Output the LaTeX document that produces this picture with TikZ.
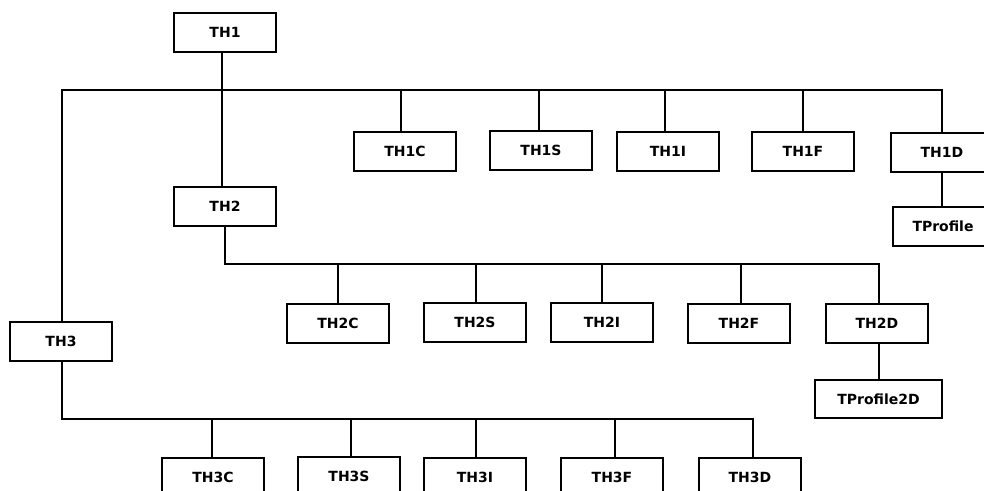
\documentclass[tikz,border=0pt]{standalone}
\usepackage{fontspec}
\setmainfont{DejaVu Sans}
\begin{document}
\begin{tikzpicture}[x=1pt,y=-1pt,
  box/.style={draw=black,line width=1.4pt,minimum width=102pt,minimum height=39pt,inner sep=0pt,
    font=\fontsize{14pt}{16pt}\selectfont\bfseries,fill=white},
  conn/.style={draw=black,line width=1.4pt}]
\useasboundingbox (0,0) rectangle (984,490);
\clip (0,0) rectangle (984,490);
% nodes
\node[box] (TH1) at (225,32.5) {TH1};
\node[box] (TH1C) at (405,151.5) {TH1C};
\node[box] (TH1S) at (541,150.5) {TH1S};
\node[box] (TH1I) at (668,151.5) {TH1I};
\node[box] (TH1F) at (803,151.5) {TH1F};
\node[box] (TH1D) at (942,152.5) {TH1D};
\node[box,minimum width=100pt] (TP) at (943,226.5) {TProfile};
\node[box] (TH2) at (225,206.5) {TH2};
\node[box] (TH2C) at (338,323.5) {TH2C};
\node[box] (TH2S) at (475,322.5) {TH2S};
\node[box] (TH2I) at (602,322.5) {TH2I};
\node[box] (TH2F) at (739,323.5) {TH2F};
\node[box] (TH2D) at (877,323.5) {TH2D};
\node[box,minimum width=127pt,minimum height=38pt] (TP2) at (878.5,399) {TProfile2D};
\node[box] (TH3) at (61,341.5) {TH3};
\node[box] (TH3C) at (213,477.5) {TH3C};
\node[box] (TH3S) at (349,476.5) {TH3S};
\node[box] (TH3I) at (475,477.5) {TH3I};
\node[box] (TH3F) at (612,477.5) {TH3F};
\node[box] (TH3D) at (750,477.5) {TH3D};
% bus levels
\coordinate (bus1) at (0,90);
\coordinate (bus2) at (0,264);
\coordinate (bus3) at (0,419);
% TH1 level
\draw[conn] ([xshift=-3pt]TH1.south) -- ([xshift=-3pt]TH1.south |- TH2.north);
\draw[conn] ([xshift=1pt]TH3.north) -- ([xshift=1pt]TH3.north |- bus1) -- (TH1D.north |- bus1) -- (TH1D.north);
\draw[conn] ([xshift=-4pt]TH1C.north) -- ([xshift=-4pt]TH1C.north |- bus1);
\draw[conn] ([xshift=-2pt]TH1S.north) -- ([xshift=-2pt]TH1S.north |- bus1);
\draw[conn] ([xshift=-3pt]TH1I.north) -- ([xshift=-3pt]TH1I.north |- bus1);
\draw[conn] (TH1F.north) -- (TH1F.north |- bus1);
\draw[conn] (TH1D.south) -- (TH1D.south |- TP.north);
% TH2 level
\draw[conn] (TH2.south) -- (TH2.south |- bus2) -- ([xshift=2pt]TH2D.north |- bus2) -- ([xshift=2pt]TH2D.north);
\draw[conn] (TH2C.north) -- (TH2C.north |- bus2);
\draw[conn] ([xshift=1pt]TH2S.north) -- ([xshift=1pt]TH2S.north |- bus2);
\draw[conn] (TH2I.north) -- (TH2I.north |- bus2);
\draw[conn] ([xshift=2pt]TH2F.north) -- ([xshift=2pt]TH2F.north |- bus2);
\draw[conn] ([xshift=2pt]TH2D.south) -- ([xshift=2pt]TH2D.south |- TP2.north);
% TH3 level
\draw[conn] ([xshift=1pt]TH3.south) -- ([xshift=1pt]TH3.south |- bus3) -- ([xshift=3pt]TH3D.north |- bus3) -- ([xshift=3pt]TH3D.north);
\draw[conn] ([xshift=-1pt]TH3C.north) -- ([xshift=-1pt]TH3C.north |- bus3);
\draw[conn] ([xshift=2pt]TH3S.north) -- ([xshift=2pt]TH3S.north |- bus3);
\draw[conn] ([xshift=1pt]TH3I.north) -- ([xshift=1pt]TH3I.north |- bus3);
\draw[conn] ([xshift=3pt]TH3F.north) -- ([xshift=3pt]TH3F.north |- bus3);
\end{tikzpicture}
\end{document}
